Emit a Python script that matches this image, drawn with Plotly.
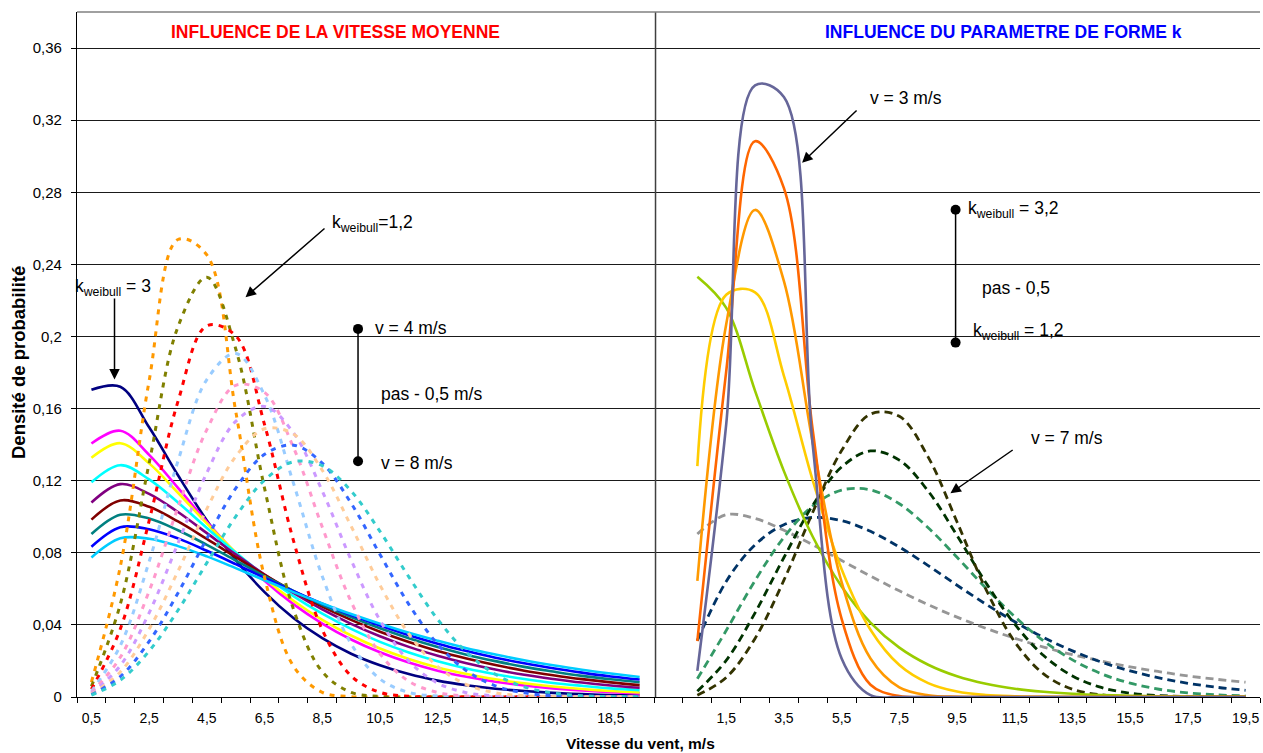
import plotly.graph_objects as go

# ---------------- categories (wind speed, m/s) ----------------
speeds = [0.5, 1.5, 2.5, 3.5, 4.5, 5.5, 6.5, 7.5, 8.5, 9.5,
          10.5, 11.5, 12.5, 13.5, 14.5, 15.5, 16.5, 17.5, 18.5, 19.5]

left_tick_speeds = [0.5, 2.5, 4.5, 6.5, 8.5, 10.5, 12.5, 14.5, 16.5, 18.5]
left_tick_labels = ["0,5", "2,5", "4,5", "6,5", "8,5", "10,5", "12,5", "14,5", "16,5", "18,5"]
right_tick_speeds = [1.5, 3.5, 5.5, 7.5, 9.5, 11.5, 13.5, 15.5, 17.5, 19.5]
right_tick_labels = ["1,5", "3,5", "5,5", "7,5", "9,5", "11,5", "13,5", "15,5", "17,5", "19,5"]

y_ticks = [0, 0.04, 0.08, 0.12, 0.16, 0.2, 0.24, 0.28, 0.32, 0.36]
y_tick_labels = ["0", "0,04", "0,08", "0,12", "0,16", "0,2", "0,24", "0,28", "0,32", "0,36"]

# ---------------- left panel: influence of mean speed ----------------
# solid curves (k = 1.2), mean speed 4 -> 8 m/s
left_s1 = [0.1704, 0.1721, 0.1496, 0.1230, 0.0979, 0.0761, 0.0582, 0.0438, 0.0326, 0.0240,
           0.0176, 0.0127, 0.0091, 0.0065, 0.0046, 0.0033, 0.0023, 0.0016, 0.0011, 0.0008]
left_s2 = [0.1406, 0.1477, 0.1343, 0.1160, 0.0972, 0.0798, 0.0645, 0.0515, 0.0407, 0.0319,
           0.0248, 0.0191, 0.0146, 0.0112, 0.0085, 0.0064, 0.0048, 0.0036, 0.0027, 0.0020]
left_s3 = [0.1327, 0.1408, 0.1296, 0.1133, 0.0963, 0.0802, 0.0658, 0.0534, 0.0428, 0.0341,
           0.0269, 0.0211, 0.0164, 0.0128, 0.0098, 0.0076, 0.0058, 0.0044, 0.0033, 0.0025]
left_s4 = [0.1191, 0.1286, 0.1207, 0.1079, 0.0938, 0.0801, 0.0673, 0.0560, 0.0462, 0.0378,
           0.0306, 0.0247, 0.0198, 0.0158, 0.0126, 0.0100, 0.0078, 0.0062, 0.0048, 0.0038]
left_s5 = [0.1079, 0.1181, 0.1127, 0.1026, 0.0909, 0.0791, 0.0679, 0.0577, 0.0486, 0.0406,
           0.0337, 0.0278, 0.0229, 0.0187, 0.0152, 0.0123, 0.0100, 0.0080, 0.0064, 0.0051]
left_s6 = [0.0984, 0.1090, 0.1055, 0.0974, 0.0877, 0.0776, 0.0677, 0.0586, 0.0502, 0.0428,
           0.0362, 0.0305, 0.0255, 0.0213, 0.0177, 0.0146, 0.0121, 0.0099, 0.0081, 0.0066]
left_s7 = [0.0904, 0.1011, 0.0990, 0.0925, 0.0844, 0.0757, 0.0671, 0.0589, 0.0512, 0.0443,
           0.0381, 0.0326, 0.0277, 0.0235, 0.0199, 0.0167, 0.0141, 0.0117, 0.0098, 0.0082]
left_s8 = [0.0834, 0.0942, 0.0931, 0.0880, 0.0811, 0.0737, 0.0661, 0.0587, 0.0518, 0.0454,
           0.0396, 0.0343, 0.0296, 0.0255, 0.0218, 0.0187, 0.0159, 0.0135, 0.0114, 0.0097]
left_s9 = [0.0774, 0.0880, 0.0878, 0.0837, 0.0780, 0.0715, 0.0648, 0.0582, 0.0519, 0.0460,
           0.0406, 0.0356, 0.0312, 0.0271, 0.0236, 0.0204, 0.0176, 0.0151, 0.0130, 0.0111]

# dashed curves (k = 3), mean speed 4 -> 8 m/s
left_d1 = [0.0083, 0.0723, 0.1754, 0.2538, 0.2452, 0.1586, 0.0664, 0.0172, 0.0026, 0.0002,
           0, 0, 0, 0, 0, 0, 0, 0, 0, 0]
left_d2 = [0.0059, 0.0514, 0.1297, 0.2054, 0.2329, 0.1932, 0.1158, 0.0488, 0.0140, 0.0026,
           0.0003, 0, 0, 0, 0, 0, 0, 0, 0, 0]
left_d3 = [0.0043, 0.0377, 0.0977, 0.1640, 0.2059, 0.2004, 0.1511, 0.0869, 0.0373, 0.0117,
           0.0026, 0.0004, 0, 0, 0, 0, 0, 0, 0, 0]
left_d4 = [0.0032, 0.0285, 0.0751, 0.1309, 0.1761, 0.1906, 0.1674, 0.1187, 0.0670, 0.0295,
           0.0100, 0.0025, 0.0005, 0.0001, 0, 0, 0, 0, 0, 0]
left_d5 = [0.0025, 0.0220, 0.0587, 0.1052, 0.1483, 0.1729, 0.1690, 0.1385, 0.0943, 0.0529,
           0.0240, 0.0087, 0.0025, 0.0005, 0.0001, 0, 0, 0, 0, 0]
left_d6 = [0.0020, 0.0174, 0.0467, 0.0853, 0.1244, 0.1529, 0.1612, 0.1466, 0.1143, 0.0760,
           0.0426, 0.0199, 0.0077, 0.0024, 0.0006, 0.0001, 0, 0, 0, 0]
left_d7 = [0.0016, 0.0139, 0.0377, 0.0698, 0.1044, 0.1334, 0.1488, 0.1459, 0.1258, 0.0948,
           0.0621, 0.0350, 0.0169, 0.0069, 0.0023, 0.0007, 0.0002, 0, 0, 0]
left_d8 = [0.0013, 0.0113, 0.0308, 0.0577, 0.0879, 0.1157, 0.1346, 0.1397, 0.1297, 0.1075,
           0.0791, 0.0514, 0.0293, 0.0145, 0.0062, 0.0023, 0.0007, 0.0002, 0, 0]
left_d9 = [0.0010, 0.0093, 0.0255, 0.0481, 0.0744, 0.1001, 0.1203, 0.1305, 0.1283, 0.1143,
           0.0919, 0.0666, 0.0431, 0.0248, 0.0126, 0.0056, 0.0022, 0.0007, 0.0002, 0.0001]

# ---------------- right panel: influence of shape factor k ----------------
# solid curves: v = 3 m/s, k = 1.2 -> 3.2
right_s1 = [0.2331, 0.2159, 0.1698, 0.1253, 0.0889, 0.0613, 0.0413, 0.0274, 0.0179, 0.0115,
            0.0073, 0.0046, 0.0029, 0.0018, 0.0011, 0.0007, 0.0004, 0.0002, 0.0001, 0.0001]
right_s2 = [0.1281, 0.2231, 0.2245, 0.1782, 0.1201, 0.0709, 0.0373, 0.0177, 0.0077, 0.0030,
            0.0011, 0.0004, 0.0001, 0, 0, 0, 0, 0, 0, 0]
right_s3 = [0.0644, 0.2068, 0.2702, 0.2307, 0.1411, 0.0637, 0.0214, 0.0054, 0.0010, 0.0001,
            0, 0, 0, 0, 0, 0, 0, 0, 0, 0]
right_s4 = [0.0310, 0.1806, 0.3083, 0.2823, 0.1479, 0.0434, 0.0068, 0.0005, 0, 0,
            0, 0, 0, 0, 0, 0, 0, 0, 0, 0]
right_s5 = [0.0145, 0.1513, 0.3393, 0.3328, 0.1395, 0.0214, 0.0010, 0, 0, 0,
            0, 0, 0, 0, 0, 0, 0, 0, 0, 0]

# dashed curves: v = 7 m/s, k = 1.2 -> 3.2
right_d1 = [0.0904, 0.1011, 0.0990, 0.0925, 0.0844, 0.0757, 0.0671, 0.0589, 0.0512, 0.0443,
            0.0381, 0.0326, 0.0277, 0.0235, 0.0199, 0.0167, 0.0141, 0.0117, 0.0098, 0.0082]
right_d2 = [0.0313, 0.0641, 0.0844, 0.0956, 0.0996, 0.0978, 0.0919, 0.0832, 0.0729, 0.0620,
            0.0515, 0.0417, 0.0330, 0.0256, 0.0194, 0.0145, 0.0106, 0.0076, 0.0054, 0.0037]
right_d3 = [0.0101, 0.0369, 0.0646, 0.0886, 0.1060, 0.1148, 0.1149, 0.1072, 0.0939, 0.0775,
            0.0604, 0.0446, 0.0311, 0.0206, 0.0129, 0.0077, 0.0043, 0.0023, 0.0012, 0.0006]
right_d4 = [0.0032, 0.0203, 0.0467, 0.0774, 0.1064, 0.1276, 0.1365, 0.1314, 0.1142, 0.0896,
            0.0634, 0.0404, 0.0230, 0.0117, 0.0053, 0.0021, 0.0008, 0.0002, 0.0001, 0]
right_d5 = [0.0010, 0.0108, 0.0325, 0.0648, 0.1025, 0.1367, 0.1569, 0.1557, 0.1331, 0.0971,
            0.0598, 0.0306, 0.0128, 0.0043, 0.0012, 0.0002, 0, 0, 0, 0]

left_solid = [left_s1, left_s2, left_s3, left_s4, left_s5, left_s6, left_s7, left_s8, left_s9]
left_solid_colors = ["#000080", "#FF00FF", "#FFFF00", "#00FFFF", "#800080",
                     "#800000", "#008080", "#0000FF", "#00CCFF"]
left_dashed = [left_d1, left_d2, left_d3, left_d4, left_d5, left_d6, left_d7, left_d8, left_d9]
left_dashed_colors = ["#FF9900", "#808000", "#FF0000", "#99CCFF", "#FF99CC",
                      "#CC99FF", "#FFCC99", "#3366FF", "#33CCCC"]
right_solid = [right_s1, right_s2, right_s3, right_s4, right_s5]
right_solid_colors = ["#99CC00", "#FFCC00", "#FF9900", "#FF6600", "#666699"]
right_dashed = [right_d1, right_d2, right_d3, right_d4, right_d5]
right_dashed_colors = ["#969696", "#003366", "#339966", "#003300", "#333300"]

# the right panel starts after a blank category on the same category axis
RIGHT_OFFSET = 21
x_left = speeds
x_right = [s + RIGHT_OFFSET for s in speeds]

FONT = "Liberation Sans, Arial, sans-serif"

fig = go.Figure()


def add_series(xs, ys, color, dash, width):
    fig.add_trace(go.Scatter(
        x=xs, y=ys, mode="lines",
        line=dict(color=color, width=width, dash=dash, shape="spline", smoothing=1.0),
        hoverinfo="skip", showlegend=False, cliponaxis=True))


for ys, c in zip(left_solid, left_solid_colors):
    add_series(x_left, ys, c, "solid", 2.6)
for ys, c in zip(left_dashed, left_dashed_colors):
    add_series(x_left, ys, c, "5px,6px", 3)
for ys, c in zip(right_dashed, right_dashed_colors):
    add_series(x_right, ys, c, "8px,5px", 2.8)
for ys, c in zip(right_solid, right_solid_colors):
    add_series(x_right, ys, c, "solid", 2.6)

# markers of the "pas" annotations (dot - line - dot)
left_step_x = [9.74, 9.74]
left_step_y = [0.2042, 0.1308]
right_step_x = [30.45, 30.45]
right_step_y = [0.2703, 0.1966]
for sx, sy in ((left_step_x, left_step_y), (right_step_x, right_step_y)):
    fig.add_trace(go.Scatter(x=sx, y=sy, mode="lines+markers",
                             line=dict(color="black", width=1.5),
                             marker=dict(color="black", size=10),
                             hoverinfo="skip", showlegend=False))

tick_vals = left_tick_speeds + [s + RIGHT_OFFSET for s in right_tick_speeds]
tick_text = left_tick_labels + right_tick_labels

fig.update_layout(
    width=1263, height=753,
    margin=dict(l=77, r=3, t=12, b=56),
    paper_bgcolor="white", plot_bgcolor="white",
    font=dict(family=FONT, size=14, color="black"),
    showlegend=False,
    xaxis=dict(range=[0, 41], tickmode="array", tickvals=tick_vals, ticktext=tick_text,
               ticks="", showgrid=False, zeroline=False,
               showline=True, linecolor="black", linewidth=1.2,
               tickfont=dict(size=14, family=FONT), ticklabelstandoff=8,
               minor=dict(tickmode="array", tickvals=list(range(0, 42)), ticks="outside",
                          ticklen=5, tickcolor="black", tickwidth=1, showgrid=False)),
    yaxis=dict(range=[0, 0.38], tickmode="array", tickvals=y_ticks, ticktext=y_tick_labels,
               ticks="outside", ticklen=5, tickcolor="black",
               showgrid=True, gridcolor="#1a1a1a", gridwidth=1, zeroline=False,
               showline=True, linecolor="black", linewidth=1.2,
               tickfont=dict(size=15, family=FONT), ticklabelstandoff=6),
)

shapes = [
    # panel separator
    dict(type="line", xref="x", yref="paper", x0=20.05, x1=20.05, y0=0, y1=1,
         line=dict(color="#404040", width=1.5)),
    # plot-area top border
    dict(type="line", xref="paper", yref="paper", x0=0, x1=1, y0=1, y1=1,
         line=dict(color="#808080", width=1.5)),
]
fig.update_layout(shapes=shapes)

ann = []


def text(x, y, s, size=17.5, color="black", bold=False, xanchor="left"):
    ann.append(dict(x=x, y=y, xref="x", yref="y", text=("<b>%s</b>" % s) if bold else s,
                    showarrow=False, xanchor=xanchor, yanchor="middle",
                    font=dict(family=FONT, size=size, color=color)))


def arrow(x0, y0, x1, y1):
    ann.append(dict(x=x1, y=y1, ax=x0, ay=y0, xref="x", yref="y", axref="x", ayref="y",
                    text="", showarrow=True, arrowhead=2, arrowsize=1.4, arrowwidth=1.5,
                    arrowcolor="black", standoff=0, startstandoff=0))


# titles
text(8.96, 0.369, "INFLUENCE DE LA VITESSE MOYENNE", size=17.5, color="#FF0000", bold=True, xanchor="center")
text(32.11, 0.369, "INFLUENCE DU PARAMETRE DE FORME k", size=17.5, color="#0000FF", bold=True, xanchor="center")

# left annotations
text(1.26, 0.227, "k<sub>weibull</sub> = 3", xanchor="center")
arrow(1.30, 0.2219, 1.30, 0.1762)
text(8.78, 0.2628, "k<sub>weibull</sub>=1,2")
arrow(8.63, 0.2606, 5.84, 0.2218)
text(10.27, 0.2047, "v = 4 m/s")
text(10.45, 0.1681, "pas - 0,5 m/s")
text(10.45, 0.1298, "v = 8 m/s")

# right annotations
text(27.42, 0.3322, "v = 3 m/s")
arrow(27.07, 0.3262, 25.13, 0.2964)
text(30.82, 0.2703, "k<sub>weibull</sub> = 3,2")
text(31.31, 0.2271, "pas - 0,5")
text(30.97, 0.2027, "k<sub>weibull</sub> = 1,2")
text(32.98, 0.1435, "v = 7 m/s")
arrow(32.48, 0.1376, 30.27, 0.1130)

# axis titles
ann.append(dict(x=-0.0499, y=0.489, xref="paper", yref="paper", text="<b>Densité de probabilité</b>",
                textangle=-90, showarrow=False, xanchor="center", yanchor="middle",
                font=dict(family=FONT, size=18.5, color="black")))
ann.append(dict(x=0.476, y=-0.0672, xref="paper", yref="paper", text="<b>Vitesse du vent, m/s</b>",
                showarrow=False, xanchor="center", yanchor="middle",
                font=dict(family=FONT, size=15.5, color="black")))

fig.update_layout(annotations=ann)

fig.write_html("out.html", config={"displayModeBar": False},
               post_script="document.body.style.margin='0';")
